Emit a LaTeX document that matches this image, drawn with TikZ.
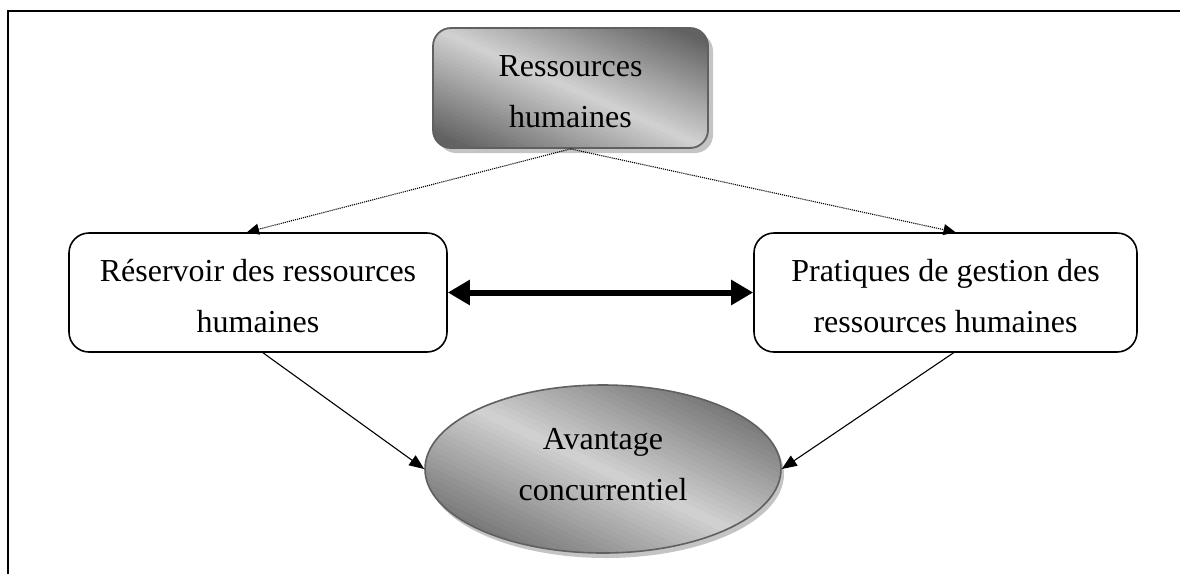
\documentclass[tikz,border=0pt]{standalone}
\usepackage{fontspec}
\setmainfont{Liberation Serif}
\usetikzlibrary{arrows.meta,shapes.geometric}
\definecolor{dk}{HTML}{626262}
\definecolor{lt}{HTML}{D2D2D2}
\definecolor{shadowgray}{HTML}{C4C4C4}
\begin{document}
\begin{tikzpicture}[x=1pt,y=1pt,
  txt/.style={font=\fontsize{32}{51}\selectfont, align=center, inner sep=0pt},
  gradfill/.style 2 args={path picture={
    \begin{scope}[shift={(path picture bounding box.center)}]
      \foreach \i in {0,...,59}{
        \pgfmathsetmacro\sa{-2+\i*4/60}
        \pgfmathsetmacro\sb{\sa+4/60+0.02}
        \pgfmathsetmacro\sm{\sa+2/60}
        \pgfmathtruncatemacro\p{100*max(0,1-abs(\sm)/1.75)}
        \fill[lt!\p!dk] ({(\sa-3)/2*#1},{(\sa+3)/2*#2}) -- ({(\sa+3)/2*#1},{(\sa-3)/2*#2})
           -- ({(\sb+3)/2*#1},{(\sb-3)/2*#2}) -- ({(\sb-3)/2*#1},{(\sb+3)/2*#2}) -- cycle;
      }
    \end{scope}}},
  shadedbox/.style={rectangle, rounded corners=18pt, draw=gray!75!black, line width=1.8pt,
     fill=dk, gradfill={139}{61}},
  plainbox/.style={rectangle, rounded corners=20pt, draw=black, line width=1.6pt, fill=white},
  shadedell/.style={ellipse, draw=gray!75!black, line width=1.6pt,
     fill=dk, gradfill={180}{86}},
  dotarrow/.style={densely dotted, line width=1.1pt, -{Triangle[length=12pt,width=11pt]}},
  solarrow/.style={line width=1.1pt, -{Triangle[length=15pt,width=12pt]}},
  thickarrow/.style={line width=6pt, {Triangle[length=22pt,width=24pt]}-{Triangle[length=22pt,width=24pt]}}
]
\useasboundingbox (0,0) rectangle (1180,-574);
% frame
\draw[line width=2pt] (8,-574) -- (8,-11) -- (1180,-11);

% shadows
\fill[shadowgray, rounded corners=18pt] (438,-33) rectangle (713,-153);
\fill[shadowgray] (606,-474) ellipse [x radius=178pt, y radius=84pt];

% shapes
\node[shadedbox, minimum width=275pt, minimum height=120pt] (top) at (570.5,-88) {};
\node[plainbox, minimum width=378pt, minimum height=119pt] (left) at (258,-292.5) {};
\node[plainbox, minimum width=383pt, minimum height=119pt] (right) at (945.5,-292.5) {};
\node[shadedell, minimum width=356pt, minimum height=168pt] (adv) at (603,-469) {};

% texts
\node[txt] (toptxt) at (570.5,-92) {Ressources\\humaines};
\node[txt] (lefttxt) at (258,-296) {Réservoir des ressources\\humaines};
\node[txt] (righttxt) at (945.5,-296) {Pratiques de gestion des\\ressources humaines};
\node[txt] (advtxt) at (603,-465) {Avantage\\concurrentiel};

% connectors
\draw[dotarrow] (top.south) -- ([xshift=-11pt]left.north);
\draw[dotarrow] (top.south) -- ([xshift=10pt]right.north);
\draw[thickarrow] (left.east) -- (right.west);
\draw[solarrow] ([xshift=5pt]left.south) -- (adv.west);
\draw[solarrow] ([xshift=8pt]right.south) -- (adv.east);
\end{tikzpicture}
\end{document}
